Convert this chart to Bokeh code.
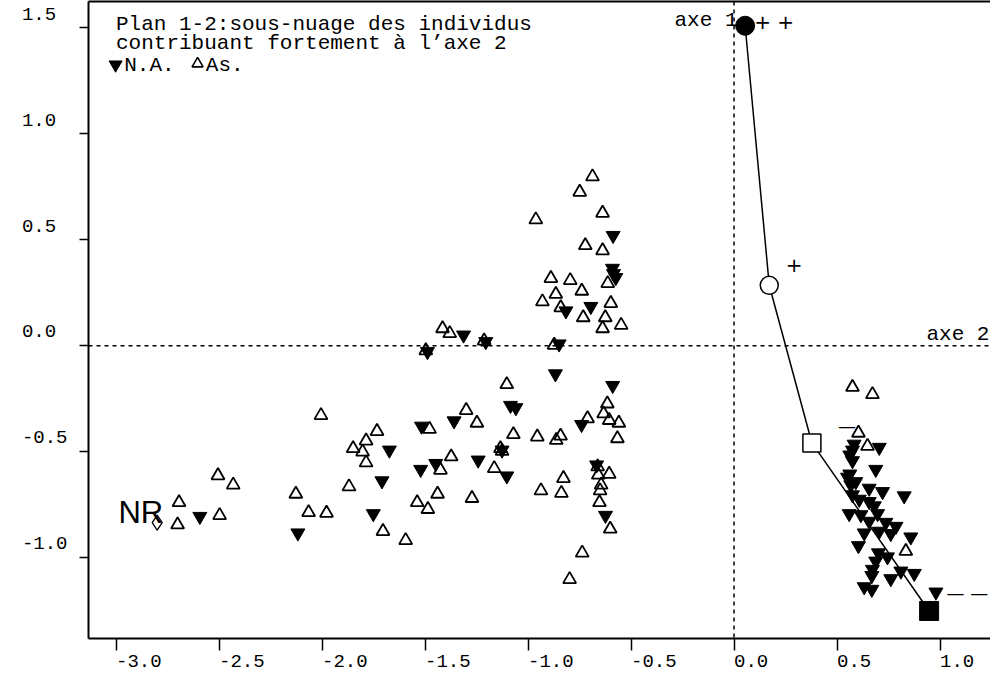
from bokeh.plotting import figure
from bokeh.models import Span, LinearAxis, FixedTicker, CustomJSTickFormatter, Range1d
from bokeh.embed import file_html
from bokeh.resources import INLINE
from bokeh.core.properties import value

# ---- data -------------------------------------------------------------
# N.A. individuals (filled inverted triangles)
na_x = [-0.587, -0.590, -0.585, -0.574, -0.695, -0.816, -1.313, -1.205, -1.488, -0.849,
        -0.867, -0.589, -1.085, -1.059, -1.517, -1.359, -0.740, -1.673, -1.126, -1.242,
        -1.448, -1.521, -0.667, -1.103, -1.709, -1.751, -0.624, -2.593, -2.117,
        0.583, 0.705, 0.575, 0.562, 0.575, 0.688, 0.562, 0.551, 0.591, 0.567,
        0.656, 0.721, 0.826, 0.575, 0.608, 0.656, 0.681, 0.559, 0.616, 0.697,
        0.656, 0.737, 0.786, 0.632, 0.705, 0.761, 0.858, 0.604, 0.701, 0.745,
        0.688, 0.672, 0.810, 0.875, 0.761, 0.669, 0.632, 0.669, 0.980]
na_y = [0.520, 0.365, 0.340, 0.321, 0.185, 0.164, 0.050, 0.019, -0.028, 0.008,
        -0.133, -0.188, -0.282, -0.293, -0.380, -0.355, -0.372, -0.493, -0.493, -0.540,
        -0.556, -0.584, -0.563, -0.615, -0.638, -0.793, -0.801, -0.806, -0.884,
        -0.465, -0.480, -0.493, -0.516, -0.543, -0.584, -0.606, -0.621, -0.642, -0.657,
        -0.673, -0.689, -0.709, -0.704, -0.725, -0.736, -0.756, -0.793, -0.798, -0.793,
        -0.829, -0.834, -0.853, -0.884, -0.876, -0.887, -0.903, -0.944, -0.978, -0.997,
        -1.017, -1.056, -1.064, -1.075, -1.100, -1.085, -1.138, -1.150, -1.163]

# As. individuals (open triangles)
as_x = [-0.687, -0.749, -0.638, -0.962, -0.722, -0.638, -0.889, -0.795, -0.613, -0.739,
        -0.865, -0.930, -0.598, -0.841, -0.732, -0.625, -0.548, -0.638, -1.415, -1.380,
        -1.213, -1.496, -0.873,
        -1.103, -0.615, -1.300, -2.005, -0.633, -1.248, -0.711, -0.606, -0.559, -1.733,
        -1.478, -1.071, -0.955, -0.863, -0.842, -0.566, -1.786, -1.849, -1.803, -1.134,
        -1.126, -1.373, -1.786, -1.425, -1.164, -0.662, -0.659, -0.606, -0.828, -0.645,
        -2.505, -2.431, -1.869, -0.937, -0.838, -0.650, -1.439, -2.127, -1.272, -2.694,
        -1.538, -0.653, -1.486, -2.065, -1.978, -2.497, -2.701, -1.704, -0.601, -1.594,
        -0.737, -0.798,
        0.575, 0.672, 0.604, 0.648, 0.834]
as_y = [0.798, 0.725, 0.626, 0.595, 0.473, 0.449, 0.318, 0.308, 0.294, 0.258,
        0.243, 0.208, 0.200, 0.180, 0.133, 0.133, 0.097, 0.081, 0.081, 0.058,
        0.023, -0.023, 0.003,
        -0.183, -0.274, -0.305, -0.329, -0.321, -0.365, -0.344, -0.352, -0.365, -0.404,
        -0.394, -0.419, -0.430, -0.446, -0.426, -0.438, -0.449, -0.485, -0.501, -0.485,
        -0.498, -0.524, -0.552, -0.587, -0.579, -0.571, -0.610, -0.606, -0.626, -0.657,
        -0.613, -0.657, -0.665, -0.684, -0.696, -0.684, -0.700, -0.700, -0.720, -0.740,
        -0.740, -0.740, -0.772, -0.787, -0.790, -0.801, -0.845, -0.876, -0.865, -0.919,
        -0.978, -1.103,
        -0.196, -0.230, -0.412, -0.474, -0.970]

# supplementary categories of axis 1 (++, +, -, --)
traj_x = [0.054, 0.171, 0.378, 0.947]
traj_y = [1.510, 0.285, -0.459, -1.252]

# non-response point
nr_x = [-2.800]
nr_y = [-0.835]

x_ticks = [-3.0, -2.5, -2.0, -1.5, -1.0, -0.5, 0.0, 0.5, 1.0]
y_ticks = [-1.0, -0.5, 0.0, 0.5, 1.0, 1.5]

MONO = value("Liberation Mono")

# ---- figure -----------------------------------------------------------
p = figure(width=990, height=675, output_backend="svg", toolbar_location=None,
           x_range=Range1d(-3.1335, 1.245), y_range=Range1d(-1.382, 1.6244),
           min_border_left=88, min_border_right=0, min_border_top=1, min_border_bottom=0,
           x_axis_location=None, y_axis_location=None)
p.outline_line_color = None
p.grid.visible = False
p.background_fill_color = "white"
p.border_fill_color = "white"

# x labels start at their tick; y labels are left-aligned and sit above their tick
xfmt = CustomJSTickFormatter(code=r"""
const s = tick.toFixed(1);
return "\u00a0".repeat(s.length) + s;
""")
yfmt = CustomJSTickFormatter(code=r"""
const s = tick.toFixed(1);
return s + (tick >= 0 ? "\u00a0" : "") + "\n";
""")

xaxis = LinearAxis(ticker=FixedTicker(ticks=x_ticks, minor_ticks=[]), formatter=xfmt,
                   axis_line_width=2, major_tick_out=12, major_tick_in=0,
                   major_tick_line_width=1.5, major_label_standoff=0,
                   major_label_text_font="Liberation Mono", major_label_text_font_size="19px",
                   major_label_text_color="black")
yaxis = LinearAxis(ticker=FixedTicker(ticks=y_ticks, minor_ticks=[]), formatter=yfmt,
                   axis_line_width=2, major_tick_out=9, major_tick_in=0,
                   major_tick_line_width=1.5, major_label_standoff=12,
                   major_label_text_font="Liberation Mono", major_label_text_font_size="19px",
                   major_label_text_color="black")
topaxis = LinearAxis(ticker=FixedTicker(ticks=[], minor_ticks=[]),
                     axis_line_width=2, major_tick_out=0, major_tick_in=0,
                     minor_tick_out=0, minor_tick_in=0,
                     major_label_text_font_size="0px")
p.add_layout(xaxis, "below")
p.add_layout(yaxis, "left")
p.add_layout(topaxis, "above")

# dotted reference axes
p.add_layout(Span(location=0, dimension="width", line_color="black",
                  line_dash="4 4", line_width=1.5))
p.add_layout(Span(location=0, dimension="height", line_color="black",
                  line_dash="4 4", line_width=1.5))

# individuals
p.scatter(as_x, as_y, marker="triangle", size=13, fill_color=None,
          line_color="black", line_width=1.8)
p.scatter(na_x, na_y, marker="inverted_triangle", size=14, fill_color="black",
          line_color="black", line_width=1)

# trajectory of axis-1 categories
p.line(traj_x, traj_y, line_color="black", line_width=1.5)
p.scatter(traj_x[0:1], traj_y[0:1], marker="circle", size=19,
          fill_color="black", line_color="black")
p.scatter(traj_x[1:2], traj_y[1:2], marker="circle", size=18,
          fill_color="white", line_color="black", line_width=1.5)
p.scatter(traj_x[2:3], traj_y[2:3], marker="square", size=18,
          fill_color="white", line_color="black", line_width=1.5)
p.scatter(traj_x[3:4], traj_y[3:4], marker="square", size=19,
          fill_color="black", line_color="black")

# non response
p.scatter(nr_x, nr_y, marker="diamond", size=15, fill_color=None,
          line_color="black", line_width=1.3)
p.text(x=[-2.988], y=[-0.786], text=["NR"], text_font=value("Liberation Sans"),
       text_font_size="31px", text_baseline="middle", text_align="left",
       text_color="black")

# title block
p.text(x=[-3.0, -3.0], y=[1.515, 1.424],
       text=["Plan 1-2:sous-nuage des individus", "contribuant fortement à l’axe 2"],
       text_font=MONO, text_font_size="21px", text_baseline="alphabetic",
       text_align="left", text_color="black")
p.scatter([-3.002], [1.326], marker="inverted_triangle", size=13,
          fill_color="black", line_color="black")
p.scatter([-2.604], [1.331], marker="triangle", size=11, fill_color=None,
          line_color="black", line_width=1.6)
p.text(x=[-2.960, -2.564], y=[1.3225, 1.3225], text=["N.A.", "As."],
       text_font=MONO, text_font_size="21px", text_baseline="alphabetic",
       text_align="left", text_color="black")

# axis captions and category labels
p.text(x=[-0.289, 0.934], y=[1.535, 0.055], text=["axe 1", "axe 2"],
       text_font=MONO, text_font_size="21px", text_baseline="middle",
       text_align="left", text_color="black")
p.text(x=[0.098, 0.251], y=[1.530, 0.379], text=["+ +", "+"],
       text_font=value("DejaVu Sans"), text_font_size="20px", text_baseline="middle",
       text_align="left", text_color="black")
p.text(x=[0.505, 1.032], y=[-0.379, -1.166], text=["—", "— —"],
       text_font=value("DejaVu Sans"), text_font_size="18px", text_baseline="middle",
       text_align="left", text_color="black")

open("out.html", "w").write(file_html(p, INLINE))
